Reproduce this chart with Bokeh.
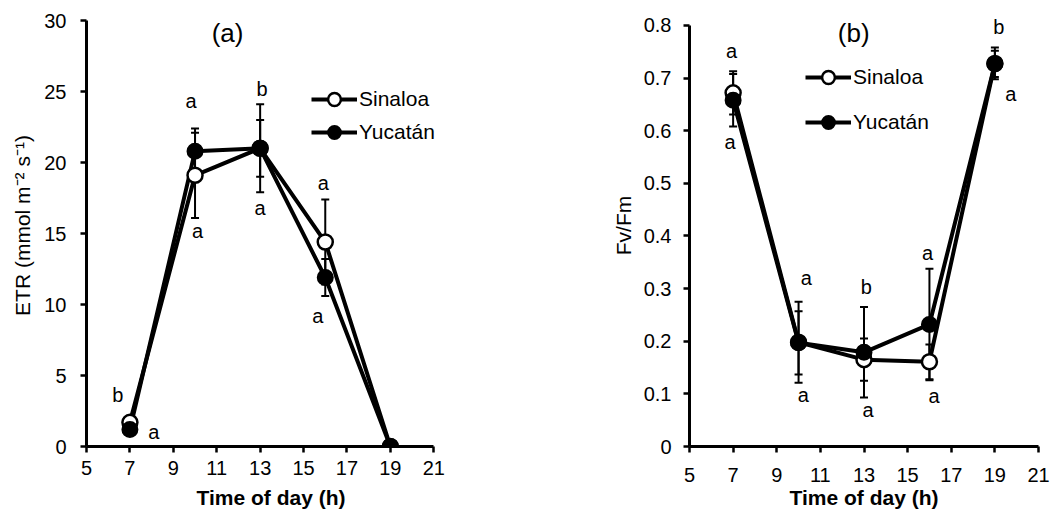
import numpy as np
from bokeh.plotting import figure
from bokeh.layouts import row
from bokeh.models import (Range1d, FixedTicker, Whisker, TeeHead, ColumnDataSource,
                          Legend, LegendItem, Label, LabelSet, CustomJSTickFormatter)
from bokeh.core.properties import value
from bokeh.embed import file_html
from bokeh.resources import INLINE

FONT = "Liberation Sans"

# ---------------- data ----------------
time_h = [7, 10, 13, 16, 19]
x_ticks = [5, 7, 9, 11, 13, 15, 17, 19, 21]

etr_sinaloa = [1.7, 19.1, 21.0, 14.4, 0.0]
etr_yucatan = [1.2, 20.8, 21.0, 11.9, 0.0]
etr_sinaloa_se = [0.0, 3.0, 3.1, 3.0, 0.0]
etr_yucatan_se = [0.0, 1.6, 2.0, 1.3, 0.0]
etr_ticks = [0, 5, 10, 15, 20, 25, 30]
etr_letters_top = ["b", "a", "b", "a", ""]
etr_letters_bottom = ["a", "a", "a", "a", ""]

fvfm_sinaloa = [0.672, 0.198, 0.165, 0.161, 0.728]
fvfm_yucatan = [0.658, 0.197, 0.179, 0.232, 0.727]
fvfm_sinaloa_se = [0.041, 0.077, 0.040, 0.033, 0.030]
fvfm_yucatan_se = [0.050, 0.060, 0.086, 0.106, 0.025]
fvfm_ticks = [0, 0.1, 0.2, 0.3, 0.4, 0.5, 0.6, 0.7, 0.8]
fvfm_letters_top = ["a", "a", "b", "a", "b"]
fvfm_letters_bottom = ["a", "a", "a", "a", "a"]

series_names = ["Sinaloa", "Yucatán"]

# ---------------- letter placement (pixel offsets from the points, +y = down) ----------------
etr_top_off = [(-12, -27), (-4, -50), (2, -59), (-2, -59), (0, 0)]
etr_bot_off = [(24, 3), (2.5, 56), (0, 60), (-7.5, 38), (0, 0)]
fvfm_top_off = [(-1.6, -41.5), (7.7, -64), (2.3, -65.7), (-2, -71), (4, -36)]
fvfm_bot_off = [(-3, 42), (4.7, 52), (4, 50), (4.5, 34), (16, 30)]


def make_panel(width, height, borders, xview, yview, xbounds, ybounds, yticks, ylabel,
               s_vals, y_vals, s_se, y_se, top_letters, bot_letters, top_off, bot_off,
               tag, tag_pos, legend_loc, legend_spacing, y_ls, y_als, x_ls, x_als, yfmt=None):
    bl, br, bt, bb = borders
    p = figure(width=width, height=height, x_range=Range1d(*xview), y_range=Range1d(*yview),
               output_backend="svg", toolbar_location=None,
               min_border_left=bl, min_border_right=br, min_border_top=bt, min_border_bottom=bb)
    p.outline_line_color = None
    p.xgrid.grid_line_color = None
    p.ygrid.grid_line_color = None
    p.background_fill_color = "white"
    p.border_fill_color = "white"

    p.xaxis.ticker = FixedTicker(ticks=x_ticks)
    p.yaxis.ticker = FixedTicker(ticks=yticks)
    p.xaxis[0].bounds = xbounds
    p.yaxis[0].bounds = ybounds
    if yfmt is not None:
        p.yaxis.formatter = yfmt
    for ax in (p.xaxis[0], p.yaxis[0]):
        ax.axis_line_width = 3
        ax.axis_line_color = "black"
        ax.major_tick_line_width = 2.5
        ax.major_tick_line_color = "black"
        ax.major_tick_out = 6
        ax.major_tick_in = 0
        ax.minor_tick_line_color = None
        ax.major_label_text_font = FONT
        ax.major_label_text_font_size = "20px"
        ax.major_label_text_color = "black"
        ax.axis_label_text_font = FONT
        ax.axis_label_text_font_size = "21px"
        ax.axis_label_text_color = "black"
    p.xaxis[0].axis_label = "Time of day (h)"
    p.xaxis[0].axis_label_text_font_style = "bold"
    p.xaxis[0].major_label_standoff = x_ls
    p.xaxis[0].axis_label_standoff = x_als
    p.yaxis[0].axis_label = ylabel
    p.yaxis[0].axis_label_text_font_style = "normal"
    p.yaxis[0].major_label_standoff = y_ls
    p.yaxis[0].axis_label_standoff = y_als

    t = np.array(time_h, dtype=float)
    s = np.array(s_vals, dtype=float)
    y = np.array(y_vals, dtype=float)
    se_s = np.array(s_se, dtype=float)
    se_y = np.array(y_se, dtype=float)

    # error bars
    for vals, se in ((s, se_s), (y, se_y)):
        src = ColumnDataSource(dict(t=t, upper=vals + se, lower=vals - se))
        w = Whisker(source=src, base="t", upper="upper", lower="lower",
                    line_width=2, line_color="black", level="underlay",
                    upper_head=TeeHead(size=8, line_width=2, line_color="black"),
                    lower_head=TeeHead(size=8, line_width=2, line_color="black"))
        p.add_layout(w)

    ls = p.line(t, s, line_width=4, line_color="black")
    ly = p.line(t, y, line_width=4, line_color="black")
    ms = p.scatter(t, s, size=15, fill_color="white", line_color="black", line_width=2.5)
    my = p.scatter(t, y, size=15, fill_color="black", line_color="black", line_width=2)

    # significance letters
    hi = np.maximum(s, y)
    lo = np.minimum(s, y)
    xs, ys, txt, dx, dy = [], [], [], [], []
    for i in range(len(t)):
        if top_letters[i]:
            xs.append(t[i]); ys.append(hi[i]); txt.append(top_letters[i])
            dx.append(top_off[i][0]); dy.append(-top_off[i][1])
        if bot_letters[i]:
            xs.append(t[i]); ys.append(lo[i]); txt.append(bot_letters[i])
            dx.append(bot_off[i][0]); dy.append(-bot_off[i][1])
    lsrc = ColumnDataSource(dict(x=xs, y=ys, text=txt, dx=dx, dy=dy))
    p.add_layout(LabelSet(x="x", y="y", text="text", x_offset="dx", y_offset="dy",
                          source=lsrc, text_font=value(FONT), text_font_size="20px",
                          text_color="black", text_align="center", text_baseline="middle"))

    p.add_layout(Label(x=tag_pos[0], y=tag_pos[1], text=tag, text_font=FONT,
                       text_font_size="26px", text_color="black",
                       text_align="center", text_baseline="middle"))

    legend = Legend(items=[LegendItem(label=series_names[0], renderers=[ls, ms]),
                           LegendItem(label=series_names[1], renderers=[ly, my])],
                    location=legend_loc, glyph_width=46, glyph_height=32,
                    label_standoff=2, label_width=80, spacing=legend_spacing,
                    padding=0, margin=0,
                    border_line_color=None, background_fill_alpha=0,
                    label_text_font=FONT, label_text_font_size="21px",
                    label_text_color="black")
    p.add_layout(legend, "center")
    return p


# Both frames share top (4) and bottom (446) borders; ranges are extended and axis
# bounds restrict the drawn axes so that 30 / 0.8 sit at the reference heights.
p1 = make_panel(530, 519, (86, 75, 4, 73), (5, 22), (0, 31.127), (5, 21), (0, 30),
                etr_ticks, "ETR (mmol m\u207b\u00b2 s\u207b\u00b9)",
                etr_sinaloa, etr_yucatan, etr_sinaloa_se, etr_yucatan_se,
                etr_letters_top, etr_letters_bottom, etr_top_off, etr_bot_off,
                "(a)", (11.5, 29.12), (225, 298), 1, 14, 7, 8, 8)

p2 = make_panel(520, 519, (159, 12, 4, 73), (5, 21), (0, 0.8399), (5, 21), (0, 0.8),
                fvfm_ticks, "Fv/Fm",
                fvfm_sinaloa, fvfm_yucatan, fvfm_sinaloa_se, fvfm_yucatan_se,
                fvfm_letters_top, fvfm_letters_bottom, fvfm_top_off, fvfm_bot_off,
                "(b)", (12.53, 0.7858), (116, 308), 13, 12, 6, 15, 1,
                yfmt=CustomJSTickFormatter(code="return String(Number(tick.toFixed(1)));"))

layout = row(p1, p2)
open("out.html", "w").write(file_html(layout, INLINE))
